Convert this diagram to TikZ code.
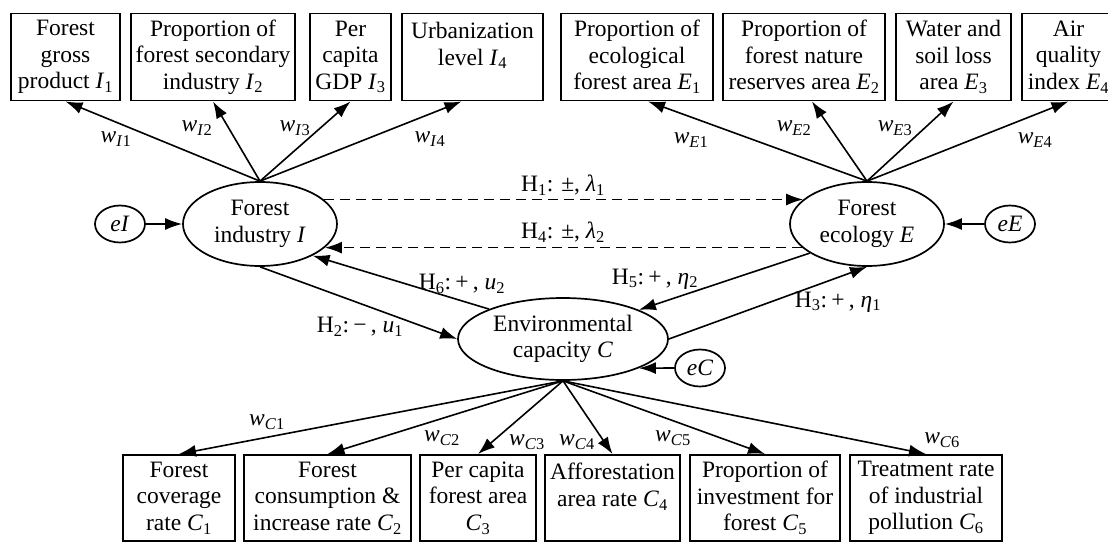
\documentclass[tikz,border=0pt]{standalone}
\usepackage{fontspec}
\setmainfont{Liberation Serif}
\usetikzlibrary{arrows.meta,shapes.geometric}
\newcommand{\mysub}[1]{\textsubscript{#1}}
\newcommand{\wl}[2]{\textit{w}\textsubscript{\textit{#1}#2}}
\newcommand{\wop}[1]{\hspace{0.18em}#1\hspace{0.18em}}
\tikzset{
  fnt/.style={font=\fontsize{23.5}{26.5}\selectfont},
  box/.style={fnt, draw, line width=1.9pt, inner sep=0pt, minimum height=87pt, align=center},
  lat/.style={fnt, draw, ellipse, line width=1.7pt, inner sep=0pt, minimum width=154pt, minimum height=84pt, align=center},
  err/.style={fnt, draw, ellipse, line width=1.7pt, inner sep=0pt, minimum width=50pt, minimum height=37pt},
  arr/.style={-{Latex[length=17pt,width=12pt]}, line width=1.6pt},
  darr/.style={arr, dash pattern=on 10pt off 6pt},
  lbl/.style={fnt, inner sep=0pt}
}
\begin{document}
\begin{tikzpicture}[x=1pt,y=-1pt]
\useasboundingbox (0,0) rectangle (1108,543);
\clip (0,0) rectangle (1108,543);
% top boxes
\node[box, minimum width=109pt] (I1) at (65.5,57) {Forest\\gross\\product \textit{I}\mysub{1}};
\node[box, minimum width=164pt] (I2) at (213,57) {Proportion of\\forest secondary\\industry \textit{I}\mysub{2}};
\node[box, minimum width=81pt] (I3) at (350.5,57) {Per\\capita\\GDP \textit{I}\mysub{3}};
\node[box, minimum width=141pt] (I4) at (472.5,57) {Urbanization\\level \textit{I}\mysub{4}\\~};
\node[box, minimum width=152pt] (E1) at (637,57) {Proportion of\\ecological\\forest area \textit{E}\mysub{1}};
\node[box, minimum width=162pt] (E2) at (804,57) {Proportion of\\forest nature\\reserves area \textit{E}\mysub{2}};
\node[box, minimum width=115pt] (E3) at (953.5,57) {Water and\\soil loss\\area \textit{E}\mysub{3}};
\node[box, minimum width=93pt] (E4) at (1068.5,57) {Air\\quality\\index \textit{E}\mysub{4}};
% latent variables
\node[lat] (I) at (260,224) {Forest\\industry \textit{I}};
\node[lat] (E) at (867,224) {Forest\\ecology \textit{E}};
\node[lat, minimum width=210pt, minimum height=82pt] (C) at (563,339) {Environmental\\capacity \textit{C}};
\node[err] (eI) at (120,224) {\textit{eI}};
\node[err] (eE) at (1010,224) {\textit{eE}};
\node[err] (eC) at (700,368) {\textit{eC}};
% bottom boxes
\node[box, minimum width=112pt, minimum height=86pt] (C1) at (179,498) {Forest\\coverage\\rate \textit{C}\mysub{1}};
\node[box, minimum width=167pt, minimum height=86pt] (C2) at (327.5,498) {Forest\\consumption \&\\increase rate \textit{C}\mysub{2}};
\node[box, minimum width=116pt, minimum height=86pt] (C3) at (478,498) {Per capita\\forest area\\\textit{C}\mysub{3}};
\node[box, minimum width=135pt, minimum height=86pt] (C4) at (612.5,498) {Afforestation\\area rate \textit{C}\mysub{4}\\~};
\node[box, minimum width=150pt, minimum height=86pt] (C5) at (765,498) {Proportion of\\investment for\\forest \textit{C}\mysub{5}};
\node[box, minimum width=152pt, minimum height=86pt] (C6) at (926,498) {Treatment rate\\of industrial\\pollution \textit{C}\mysub{6}};
% indicator arrows
\draw[arr] (I.north) -- (I1.south);
\draw[arr] (I.north) -- (I2.south);
\draw[arr] (I.north) -- (I3.south);
\draw[arr] (I.north) -- ([xshift=-11pt]I4.south);
\draw[arr] (E.north) -- ([xshift=11pt]E1.south);
\draw[arr] (E.north) -- ([xshift=8pt]E2.south);
\draw[arr] (E.north) -- (E3.south);
\draw[arr] (E.north) -- (E4.south);
\foreach \k in {1,...,6} {\draw[arr] (C.south) -- (C\k.north);}
% error arrows
\draw[arr] (eI) -- (I.west);
\draw[arr] (eE) -- (E.east);
\draw[arr] (eC.west) -- (C.-21.4);
% structural paths
\draw[darr] (I.21) -- (E.159);
\draw[darr] (E.-160) -- (I.-20);
\draw[arr] (I.south) -- (C.west);
\draw[arr] (C.158) -- (I.-31);
\draw[arr] (E.207) -- (C.21);
\draw[arr] (C.east) -- (E.south);
% labels
\node[lbl] (lI1) at (116,139) {\wl{I}{1}};
\node[lbl] (lI2) at (197,128) {\wl{I}{2}};
\node[lbl] (lI3) at (295,128) {\wl{I}{3}};
\node[lbl] (lI4) at (430,139) {\wl{I}{4}};
\node[lbl] (lE1) at (691,140) {\wl{E}{1}};
\node[lbl] (lE2) at (794,128) {\wl{E}{2}};
\node[lbl] (lE3) at (895,128) {\wl{E}{3}};
\node[lbl] (lE4) at (1035,140) {\wl{E}{4}};
\node[lbl] (lC1) at (267,422) {\wl{C}{1}};
\node[lbl] (lC2) at (442,438) {\wl{C}{2}};
\node[lbl] (lC3) at (527,442) {\wl{C}{3}};
\node[lbl] (lC4) at (577,442) {\wl{C}{4}};
\node[lbl] (lC5) at (673,438) {\wl{C}{5}};
\node[lbl] (lC6) at (942,440) {\wl{C}{6}};
\node[lbl] (h1) at (563,185) {H\mysub{1}: ±, \textit{λ}\mysub{1}};
\node[lbl] (h4) at (563,232) {H\mysub{4}: ±, \textit{λ}\mysub{2}};
\node[lbl] (h6) at (462,284) {H\mysub{6}:\wop{+}, \textit{u}\mysub{2}};
\node[lbl] (h5) at (655,279) {H\mysub{5}:\wop{+}, \textit{η}\mysub{2}};
\node[lbl] (h2) at (360,327) {H\mysub{2}:\wop{−}, \textit{u}\mysub{1}};
\node[lbl] (h3) at (838,302) {H\mysub{3}:\wop{+}, \textit{η}\mysub{1}};
\end{tikzpicture}
\end{document}
